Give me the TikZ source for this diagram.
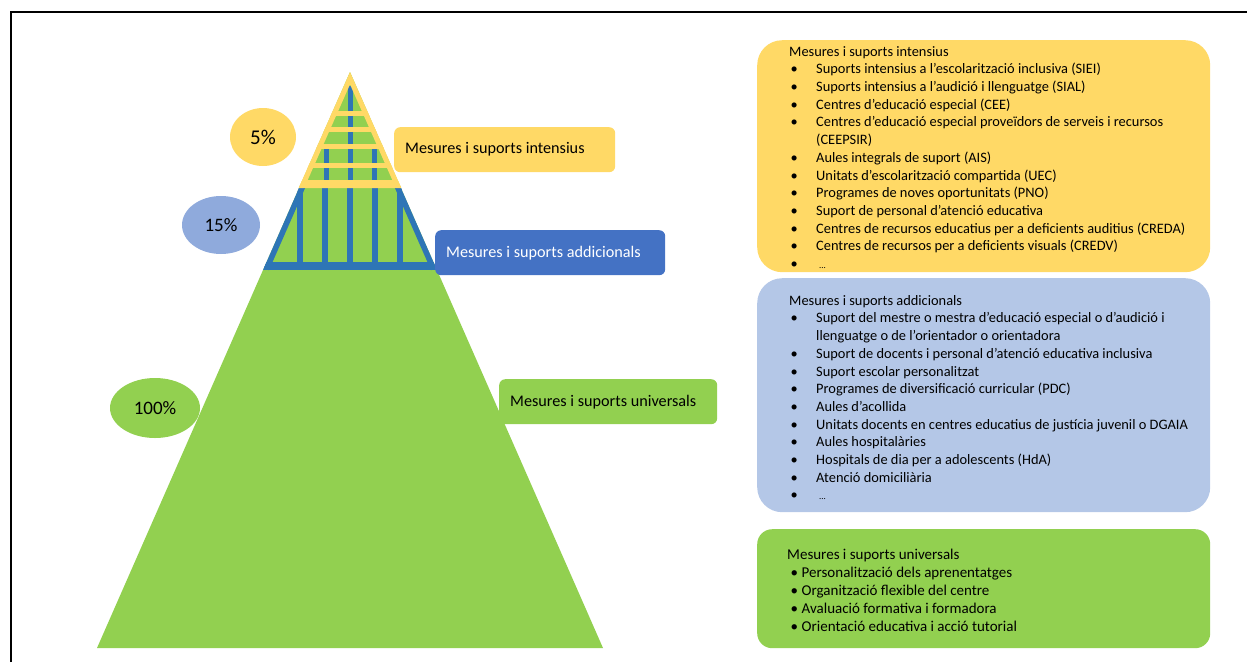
\documentclass[tikz,border=0pt]{standalone}
\usepackage{fontspec}
\setmainfont{Carlito}
\usetikzlibrary{shapes.geometric,positioning}

\definecolor{gold}{HTML}{FFD966}
\definecolor{leaf}{HTML}{92D050}
\definecolor{sky}{HTML}{B4C7E7}
\definecolor{skydark}{HTML}{8FAADC}
\definecolor{royal}{HTML}{4472C4}
\definecolor{stripe}{HTML}{2E75B6}

\newcommand\dotA{\makebox[27pt][l]{\hspace{1.5pt}\textbullet}}
\newcommand\dotB{\makebox[14.5pt][l]{\hspace{3.5pt}\textbullet}}
\newcommand\etcdots{\hspace{3pt}{\fontsize{9}{9}\selectfont...}}

\tikzset{
  pct/.style={ellipse, inner sep=0pt, font=\fontsize{19}{21}\selectfont},
  tag/.style={rounded corners=6pt, minimum height=45pt, inner xsep=11pt,
    inner ysep=0pt, align=flush left, anchor=north west,
    font=\fontsize{16.2}{20}\selectfont},
  panel/.style={anchor=north west, rounded corners=25pt, inner sep=0pt},
  list/.style={anchor=north west, inner sep=0pt, align=flush left,
    font=\fontsize{14.4}{17.7}\selectfont}
}

\begin{document}
\begin{tikzpicture}[x=1pt,y=-1pt]
  \useasboundingbox (0,0) rectangle (1247,662);
  \draw[line width=1.3pt] (11,662) -- (11,12) -- (1247,12);

  % pyramid
  \fill[leaf] (350,72) -- (603,648) -- (97,648) -- cycle;
  \begin{scope}
    \clip (350,72) -- (603,648) -- (97,648) -- cycle;
    \foreach \x in {300,325,350,375,400}
      \draw[stripe, line width=5.5pt] (\x,185) -- (\x,268);
    \draw[stripe, line width=11pt] (300.4,185) -- (263.9,268) (399.6,185) -- (436.1,268);
    \draw[stripe, line width=8pt] (250,266) -- (450,266);
  \end{scope}
  \begin{scope}
    \clip (350,72) -- (401.3,188) -- (298.7,188) -- cycle;
    \draw[stripe, line width=5pt] (350,86) -- (350,188) (326,148) -- (326,188) (374,148) -- (374,188);
    \draw[gold, line width=10pt] (350,72) -- (401.3,188) -- (298.7,188) -- cycle;
    \foreach \y in {113,129,146,165}
      \draw[gold, line width=5pt] (290,\y) -- (410,\y);
    \draw[gold, line width=7pt] (290,183.5) -- (410,183.5);
  \end{scope}

  % percentages
  \node[pct, fill=gold, minimum width=66pt, minimum height=58pt, font=\fontsize{21}{23}\selectfont] (p5) at (263,137) {5\%};
  \node[pct, fill=skydark, minimum width=78pt, minimum height=58pt] (p15) at (221,225) {15\%};
  \node[pct, fill=leaf, minimum width=90pt, minimum height=60pt] (p100) at (155,408) {100\%};

  % level tags
  \node[tag, fill=gold, text width=199pt] (inttag) at (394,127) {Mesures i suports intensius};
  \node[tag, fill=royal, text=white, text width=208pt] (addtag) at (435,230) {Mesures i suports addicionals};
  \node[tag, fill=leaf, text width=196pt] (unitag) at (499,379) {Mesures i suports universals};

  % panels
  \node[panel, fill=gold, minimum width=453pt, minimum height=232pt] (intpanel) at (757,40) {};
  \node[panel, fill=sky, minimum width=453pt, minimum height=234pt] (addpanel) at (757,278) {};
  \node[panel, fill=leaf, rounded corners=15pt, minimum width=453pt, minimum height=119pt] (unipanel) at (757,529) {};

  \node[list] (intlist) at ([shift={(32,6)}]intpanel.north west) {%
    Mesures i suports intensius\\
    \dotA Suports intensius a l’escolarització inclusiva (SIEI)\\
    \dotA Suports intensius a l’audició i llenguatge (SIAL)\\
    \dotA Centres d’educació especial (CEE)\\
    \dotA Centres d’educació especial proveïdors de serveis i recursos\\
    \hspace*{27pt}(CEEPSIR)\\
    \dotA Aules integrals de suport (AIS)\\
    \dotA Unitats d’escolarització compartida (UEC)\\
    \dotA Programes de noves oportunitats (PNO)\\
    \dotA Suport de personal d’atenció educativa\\
    \dotA Centres de recursos educatius per a deficients auditius (CREDA)\\
    \dotA Centres de recursos per a deficients visuals (CREDV)\\
    \dotA \etcdots};

  \node[list] (addlist) at ([shift={(32,17)}]addpanel.north west) {%
    Mesures i suports addicionals\\
    \dotA Suport del mestre o mestra d’educació especial o d’audició i\\
    \hspace*{27pt}llenguatge o de l’orientador o orientadora\\
    \dotA Suport de docents i personal d’atenció educativa inclusiva\\
    \dotA Suport escolar personalitzat\\
    \dotA Programes de diversificació curricular (PDC)\\
    \dotA Aules d’acollida\\
    \dotA Unitats docents en centres educatius de justícia juvenil o DGAIA\\
    \dotA Aules hospitalàries\\
    \dotA Hospitals de dia per a adolescents (HdA)\\
    \dotA Atenció domiciliària\\
    \dotA \etcdots};

  \node[list, font=\fontsize{15}{18}\selectfont] (unilist) at ([shift={(30,20)}]unipanel.north west) {%
    Mesures i suports universals\\
    \dotB Personalització dels aprenentatges\\
    \dotB Organització flexible del centre\\
    \dotB Avaluació formativa i formadora\\
    \dotB Orientació educativa i acció tutorial};
\end{tikzpicture}
\end{document}
